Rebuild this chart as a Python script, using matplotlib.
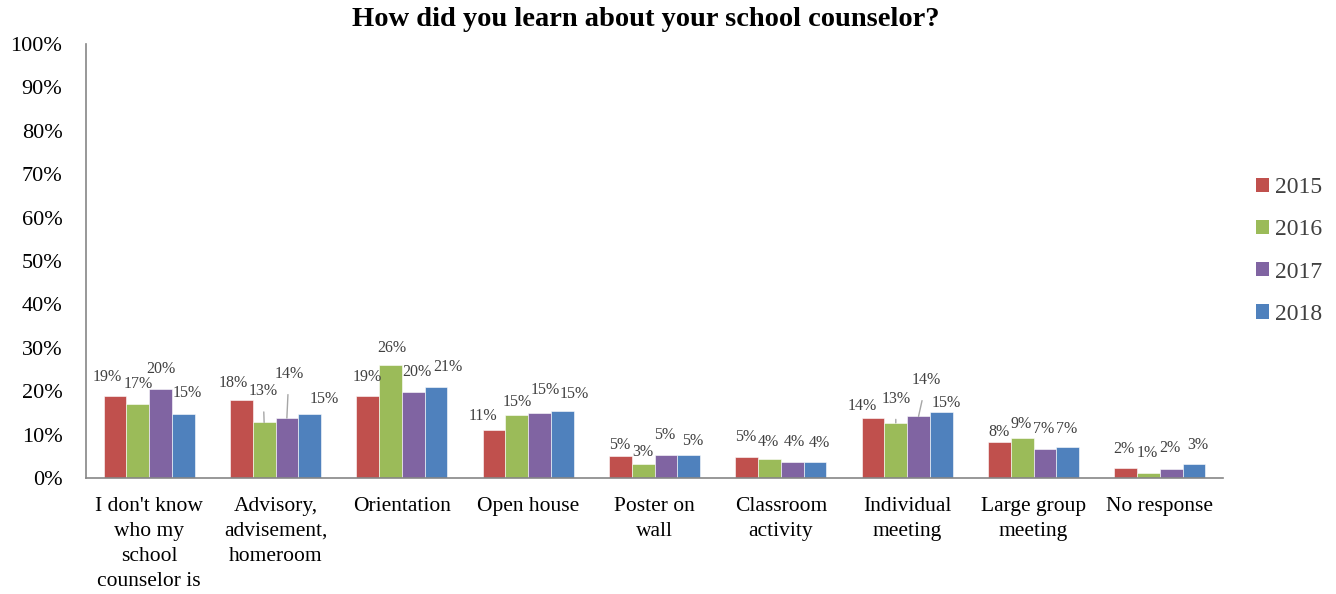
import matplotlib
matplotlib.use("Agg")
import matplotlib.pyplot as plt
from matplotlib.patches import Patch
import numpy as np

plt.rcParams["font.family"] = ["Liberation Serif", "DejaVu Serif"]

categories = [
    "I don't know\nwho my\nschool\ncounselor is",
    "Advisory,\nadvisement,\nhomeroom",
    "Orientation",
    "Open house",
    "Poster on\nwall",
    "Classroom\nactivity",
    "Individual\nmeeting",
    "Large group\nmeeting",
    "No response",
]
years = ["2015", "2016", "2017", "2018"]

# share of respondents (%) per category
v2015 = [18.9, 18.0, 18.8, 11.1, 5.1, 4.8, 13.9, 8.3, 2.4]
v2016 = [17.1, 12.8, 26.0, 14.6, 3.2, 4.4, 12.7, 9.3, 1.2]
v2017 = [20.4, 13.8, 19.8, 14.9, 5.3, 3.8, 14.2, 6.7, 2.0]
v2018 = [14.8, 14.8, 20.9, 15.4, 5.4, 3.7, 15.3, 7.1, 3.3]
series = [v2015, v2016, v2017, v2018]

colors = ["#C0504D", "#9BBB59", "#8064A2", "#4F81BD"]

# label placement nudges in pixels (dx, rise above bar top), per category/year
nudges = [
    [(-8, 19), (0, 20), (0, 20), (4, 21)],
    [(-8, 17), (-1, 31), (2, 44), (15, 15)],
    [(0, 19), (1, 17), (4, 20), (12, 20)],
    [(-11, 14), (0, 13), (6, 23), (12, 17)],
    [(-1, 11), (0, 12), (-1, 20), (4, 14)],
    [(-1, 20), (-1, 17), (2, 20), (4, 19)],
    [(-11, 12), (0, 24), (8, 36), (5, 9)],
    [(0, 10), (-1, 14), (-1, 20), (-1, 18)],
    [(-2, 19), (-1, 20), (-1, 21), (4, 19)],
]
leaders = {(1, 1), (1, 2), (6, 1), (6, 2)}

W, H, DPI = 1336, 594, 100
fig = plt.figure(figsize=(W / DPI, H / DPI), dpi=DPI)
ax = fig.add_axes([86 / W, 1 - 478 / H, (1223 - 86) / W, (478 - 44) / H])

x = np.arange(len(categories))
bw = 0.18
px2pt = 72 / DPI
for j, (vals, col) in enumerate(zip(series, colors)):
    xs = x + (j - 1.5) * bw
    ax.bar(xs, vals, width=bw, color=col, edgecolor="white", linewidth=0.4,
           label=years[j], zorder=2)
    for i, (xi, v) in enumerate(zip(xs, vals)):
        dx, dy = nudges[i][j]
        kw = {}
        if (i, j) in leaders:
            kw["arrowprops"] = dict(arrowstyle="-", color="#A6A6A6", lw=1.0,
                                    shrinkA=7, shrinkB=0)
        ax.annotate(f"{v:.0f}%", xy=(xi, v), xytext=(dx * px2pt, dy * px2pt),
                    textcoords="offset points", ha="center", va="center",
                    fontsize=11.5, color="#404040", **kw)

ax.set_xlim(-0.5, len(categories) - 0.5)
ax.set_ylim(0, 100)
ax.set_yticks(np.arange(0, 101, 10))
ax.set_yticklabels([f"{t}%" for t in range(0, 101, 10)])
ax.set_xticks(x)
ax.set_xticklabels(categories, linespacing=1.43)
ax.tick_params(axis="y", length=0, pad=17, labelsize=16)
ax.tick_params(axis="x", length=0, pad=13.5, labelsize=15.5)
for s in ["top", "right"]:
    ax.spines[s].set_visible(False)
for s in ["left", "bottom"]:
    ax.spines[s].set_color("#868686")
    ax.spines[s].set_linewidth(1.2)

fig.text(646 / W, 1 - 19 / H, "How did you learn about your school counselor?",
         ha="center", va="center", fontsize=20.5, fontweight="bold")

handles = [Patch(facecolor=c, edgecolor="none") for c in colors]
fig.legend(handles, years, loc="center left", bbox_to_anchor=(1235 / W, 1 - 251 / H),
           frameon=False, fontsize=17, handlelength=0.55, handleheight=0.55,
           handletextpad=0.25, labelspacing=0.9, labelcolor="#404040")

fig.savefig("out.png", dpi=DPI)
